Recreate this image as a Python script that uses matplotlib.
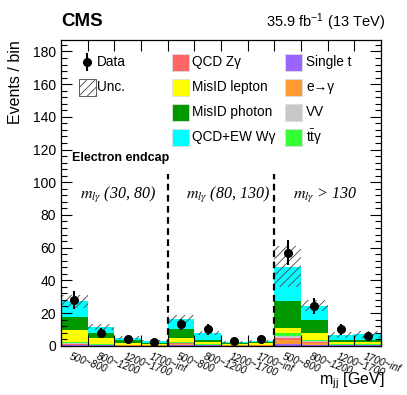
import numpy as np
import matplotlib
matplotlib.use("Agg")
import matplotlib.pyplot as plt
from matplotlib.patches import Rectangle
from matplotlib.ticker import MultipleLocator

plt.rcParams['font.family'] = ['Liberation Sans', 'DejaVu Sans']
plt.rcParams['mathtext.fontset'] = 'stix'
plt.rcParams['hatch.linewidth'] = 0.6

# ---- data ----
bin_labels = ["500~800", "800~1200", "1200~1700", "1700~inf"] * 3
region_labels = [r"$m_{l\gamma}$ (30, 80)", r"$m_{l\gamma}$ (80, 130)", r"$m_{l\gamma}$ > 130"]

single_t   = [0.3, 0.2, 0.1, 0.1, 0.4, 0.2, 0.1, 0.1, 1.3, 0.6, 0.2, 0.2]
e_to_gamma = [0.3, 0.2, 0.1, 0.05, 0.5, 0.2, 0.05, 0.05, 2.0, 0.8, 0.2, 0.2]
qcd_zg     = [0.5, 0.2, 0.1, 0.05, 0.6, 0.2, 0.05, 0.05, 1.5, 0.8, 0.2, 0.2]
vv         = [0.3, 0.1, 0.05, 0.05, 0.3, 0.1, 0.05, 0.05, 1.0, 0.5, 0.1, 0.1]
ttg        = [0.8, 0.3, 0.15, 0.05, 0.6, 0.3, 0.05, 0.05, 1.8, 0.8, 0.3, 0.3]
misid_lep  = [7.4, 3.5, 1.3, 0.9, 2.1, 1.0, 0.5, 1.2, 3.4, 4.1, 1.0, 1.5]
misid_pho  = [8.0, 3.0, 1.5, 0.6, 6.0, 1.5, 0.6, 0.5, 16.3, 8.4, 1.5, 1.0]
wg         = [9.5, 4.0, 1.7, 1.1, 6.0, 4.0, 1.1, 1.0, 21.0, 8.5, 3.0, 3.5]
unc        = [4.0, 2.0, 0.8, 0.6, 2.5, 1.2, 0.6, 0.7, 12.5, 3.5, 2.0, 2.0]
data       = [28, 8, 4, 2, 13, 10, 3, 4, 57, 24, 10, 6]
data_err   = [5.3, 2.8, 2.0, 1.4, 3.6, 3.2, 1.7, 2.0, 7.5, 4.9, 3.2, 2.4]

components = [
    ("Single t", single_t, "#9966ff"),
    ("e\u2192\u03b3", e_to_gamma, "#ff9933"),
    ("QCD Z\u03b3", qcd_zg, "#ff6666"),
    ("VV", vv, "#c8c8c8"),
    ("t$\\bar{\\mathregular{t}}$\u03b3", ttg, "#33ff33"),
    ("MisID lepton", misid_lep, "#ffff00"),
    ("MisID photon", misid_pho, "#009900"),
    ("QCD+EW W\u03b3", wg, "#00ffff"),
]

W, H = 407, 395
fig = plt.figure(figsize=(W / 100, H / 100), dpi=100)
ax = fig.add_axes([61 / W, 1 - 345.7 / H, (381 - 61) / W, (345.7 - 40) / H])

x = np.arange(len(data))
bottom = np.zeros(len(data))
for name, vals, col in components:
    vals = np.array(vals)
    ax.bar(x, vals, width=1.0, bottom=bottom, align='edge', color=col, linewidth=0)
    bottom = bottom + vals
total = bottom
ax.bar(x, 2 * np.array(unc), width=1.0, bottom=total - np.array(unc), align='edge',
       fill=False, hatch='////', edgecolor='#444444', linewidth=0)

ax.errorbar(x + 0.5, data, yerr=data_err, fmt='o', color='black', ms=5.5,
            elinewidth=1.5, capsize=0)

for xb in (4, 8):
    ax.plot([xb, xb], [0, 105], color='black', lw=1.6, ls=(0, (3, 2)))

ax.set_xlim(0, 12)
ax.set_ylim(0, 187)
ax.set_xticks(np.arange(13))
ax.set_xticklabels([])
ax.yaxis.set_major_locator(MultipleLocator(20))
ax.yaxis.set_minor_locator(MultipleLocator(4))
ax.tick_params(axis='both', which='both', direction='in', top=True, right=True)
ax.tick_params(axis='both', which='major', length=8, width=0.8, labelsize=10)
ax.tick_params(axis='both', which='minor', length=4, width=0.8)
for s in ax.spines.values():
    s.set_linewidth(0.9)

for i, lab in enumerate(bin_labels):
    ax.text(i + 0.4, -3.5, lab, rotation=-20, rotation_mode='anchor',
            ha='left', va='top', fontsize=7.3, style='italic')

for i, lab in enumerate(region_labels):
    ax.text(4 * i + 0.7, 92, lab, fontsize=11.5, style='italic',
            family=['Liberation Serif', 'DejaVu Serif'], ha='left', va='center')

ax.text(0.4, 115, "Electron endcap", fontsize=9, fontweight='bold', ha='left', va='center')

ax.set_ylabel("Events / bin", fontsize=11.5, loc='top')
ax.yaxis.set_label_coords(-0.12, 1.0)
fig.text(385 / W, 1 - 381 / H, r"m$_{\mathregular{jj}}$ [GeV]", fontsize=11.5, ha='right', va='center')

fig.text(61 / W, 1 - 22 / H, "CMS", fontsize=13.5, fontweight='bold', ha='left', va='center')
fig.text(385 / W, 1 - 22 / H, r"35.9 fb$^{\mathregular{-1}}$ (13 TeV)", fontsize=10.5,
         ha='right', va='center')

# ---- legend ----
def px(xp, yp):
    return xp / W, 1 - yp / H

def box(xp, yc, color, hatch=None):
    bx, by = px(xp, yc + 8.5)
    r = Rectangle((bx, by), 17 / W, 17 / H, transform=fig.transFigure,
                  facecolor=color if hatch is None else 'white',
                  edgecolor='#dddddd' if hatch is None else '#444444',
                  linewidth=0.6, hatch=hatch)
    fig.add_artist(r)

rows = [62, 87, 112, 137]
# data
fig.add_artist(plt.Line2D([87 / W], [1 - rows[0] / H], marker='o', color='black', ms=5.5,
                          transform=fig.transFigure))
fig.add_artist(plt.Line2D([87 / W, 87 / W], [1 - (rows[0] - 8) / H, 1 - (rows[0] + 8) / H],
                          color='black', lw=1.5, transform=fig.transFigure))
fig.text(97 / W, 1 - rows[0] / H, "Data", fontsize=9.8, va='center', ha='left')
box(79, rows[1], None, hatch='////')
fig.text(97 / W, 1 - rows[1] / H, "Unc.", fontsize=9.8, va='center', ha='left')

col2 = [components[2], components[5], components[6], components[7]]
col3 = [components[0], components[1], components[3], components[4]]
for r, (name, _, col) in zip(rows, col2):
    box(172, r, col)
    fig.text(192 / W, 1 - r / H, name, fontsize=9.8, va='center', ha='left')
for r, (name, _, col) in zip(rows, col3):
    box(285, r, col)
    fig.text(306 / W, 1 - r / H, name, fontsize=9.8, va='center', ha='left')

fig.savefig("out.png", dpi=100)
